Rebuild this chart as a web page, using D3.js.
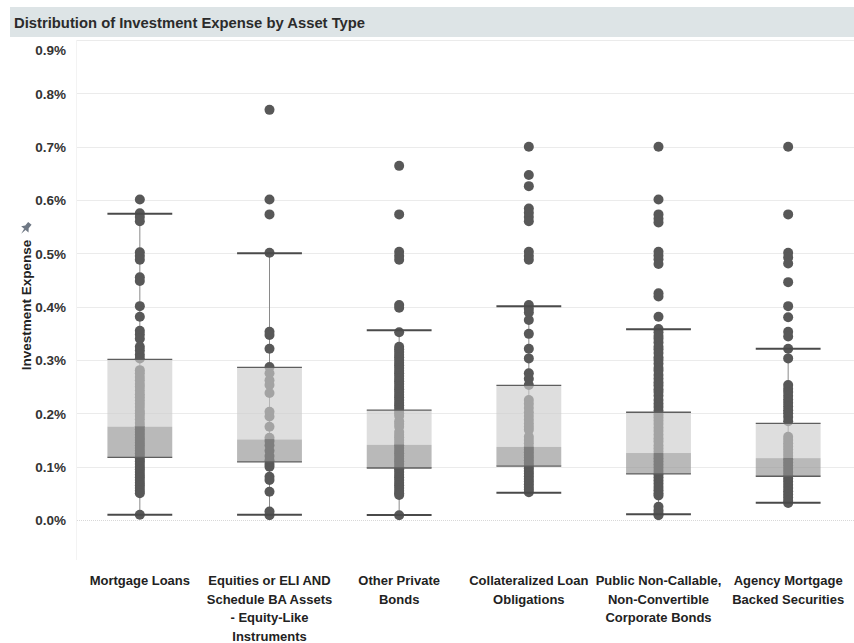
<!DOCTYPE html>
<html>
<head>
<meta charset="utf-8">
<script src="https://cdn.jsdelivr.net/npm/d3@7"></script>
<style>
  html, body { margin: 0; padding: 0; background: #ffffff; }
  svg { display: block; font-family: "Liberation Sans", Arial, sans-serif; }
</style>
</head>
<body>
<svg id="chart" width="854" height="643"></svg>
<script>
// ---------- DATA ----------
const title = "Distribution of Investment Expense by Asset Type";
const yTitle = "Investment Expense";
const categories = [
  "Mortgage Loans",
  "Equities or ELI AND Schedule BA Assets - Equity-Like Instruments",
  "Other Private Bonds",
  "Collateralized Loan Obligations",
  "Public Non-Callable, Non-Convertible Corporate Bonds",
  "Agency Mortgage Backed Securities"
];
const categoryLines = [
  ["Mortgage Loans"],
  ["Equities or ELI AND", "Schedule BA Assets", "- Equity-Like", "Instruments"],
  ["Other Private", "Bonds"],
  ["Collateralized Loan", "Obligations"],
  ["Public Non-Callable,", "Non-Convertible", "Corporate Bonds"],
  ["Agency Mortgage", "Backed Securities"]
];
const tickValues = [0, 0.1, 0.2, 0.3, 0.4, 0.5, 0.6, 0.7, 0.8, 0.9];
const tickLabels = ["0.0%", "0.1%", "0.2%", "0.3%", "0.4%", "0.5%", "0.6%", "0.7%", "0.8%", "0.9%"];

// values in percent
const mortgageLoans = [0.601, 0.575, 0.568, 0.560, 0.502, 0.495, 0.488, 0.455, 0.448, 0.401, 0.381,
  0.355, 0.348, 0.340, 0.325, 0.318, 0.310, 0.303, 0.281, 0.275, 0.268, 0.262, 0.255, 0.250, 0.243,
  0.236, 0.230, 0.224, 0.218, 0.212, 0.205, 0.200, 0.195, 0.189, 0.182, 0.176, 0.170, 0.165, 0.160,
  0.154, 0.150, 0.145, 0.140, 0.135, 0.130, 0.125, 0.120, 0.115, 0.110, 0.105, 0.100, 0.095, 0.090,
  0.085, 0.080, 0.075, 0.070, 0.065, 0.060, 0.055, 0.050, 0.010];
const equities = [0.769, 0.601, 0.573, 0.501, 0.353, 0.347, 0.321, 0.287, 0.275, 0.262, 0.253, 0.238,
  0.203, 0.194, 0.175, 0.154, 0.148, 0.140, 0.130, 0.120, 0.112, 0.105, 0.100, 0.081, 0.075, 0.053,
  0.016, 0.009];
const otherPrivate = [0.664, 0.573, 0.503, 0.495, 0.488, 0.403, 0.398, 0.352, 0.325, 0.320, 0.315,
  0.310, 0.305, 0.300, 0.295, 0.290, 0.285, 0.280, 0.275, 0.270, 0.265, 0.260, 0.255, 0.250, 0.245,
  0.240, 0.235, 0.230, 0.225, 0.220, 0.215, 0.210, 0.205, 0.200, 0.195, 0.185, 0.180, 0.175, 0.165,
  0.160, 0.155, 0.150, 0.145, 0.140, 0.135, 0.130, 0.125, 0.120, 0.115, 0.110, 0.105, 0.100, 0.095,
  0.090, 0.085, 0.080, 0.075, 0.070, 0.065, 0.060, 0.055, 0.050, 0.047, 0.009];
const clo = [0.700, 0.647, 0.626, 0.584, 0.576, 0.568, 0.560, 0.503, 0.495, 0.488, 0.403, 0.396,
  0.389, 0.375, 0.349, 0.321, 0.303, 0.275, 0.265, 0.253, 0.225, 0.218, 0.210, 0.202, 0.195, 0.188,
  0.181, 0.175, 0.169, 0.156, 0.150, 0.144, 0.137, 0.132, 0.127, 0.122, 0.117, 0.112, 0.107, 0.102,
  0.097, 0.092, 0.087, 0.082, 0.077, 0.072, 0.067, 0.062, 0.057, 0.052];
const publicBonds = [0.700, 0.601, 0.573, 0.565, 0.558, 0.503, 0.496, 0.489, 0.480, 0.425, 0.419,
  0.381, 0.358, 0.352, 0.345, 0.340, 0.333, 0.325, 0.320, 0.313, 0.305, 0.300, 0.293, 0.285, 0.280,
  0.272, 0.265, 0.258, 0.252, 0.245, 0.240, 0.233, 0.225, 0.218, 0.212, 0.205, 0.198, 0.192, 0.186,
  0.180, 0.173, 0.167, 0.160, 0.153, 0.147, 0.140, 0.134, 0.128, 0.122, 0.116, 0.110, 0.104, 0.098,
  0.092, 0.086, 0.080, 0.074, 0.068, 0.062, 0.056, 0.050, 0.046, 0.025, 0.018, 0.012, 0.009];
const agency = [0.700, 0.573, 0.501, 0.492, 0.481, 0.446, 0.401, 0.380, 0.353, 0.344, 0.321, 0.303,
  0.253, 0.246, 0.240, 0.233, 0.226, 0.220, 0.213, 0.206, 0.200, 0.193, 0.185, 0.156, 0.150, 0.144,
  0.138, 0.132, 0.126, 0.120, 0.114, 0.108, 0.102, 0.096, 0.090, 0.084, 0.078, 0.072, 0.066, 0.060,
  0.054, 0.048, 0.042, 0.036, 0.032];
const seriesValues = [mortgageLoans, equities, otherPrivate, clo, publicBonds, agency];

// box plot statistics (percent)
const whiskerLow  = [0.010, 0.010, 0.0094, 0.051, 0.011, 0.0325];
const quartile1   = [0.1175, 0.109, 0.0975, 0.101, 0.0863, 0.082];
const medians     = [0.175, 0.151, 0.141, 0.137, 0.1256, 0.116];
const quartile3   = [0.301, 0.286, 0.206, 0.2525, 0.202, 0.181];
const whiskerHigh = [0.574, 0.500, 0.356, 0.4006, 0.3575, 0.321];

// ---------- DRAW ----------
const svg = d3.select("#chart");
const W = 854, H = 643;
const plotLeft = 75, plotRight = 854, plotTop = 40, plotBottom = 560;

const x = d3.scaleBand().domain(categories).range([plotLeft, plotRight - 1]).paddingInner(0).paddingOuter(0);
const y = d3.scaleLinear().domain([-0.075, 0.9]).range([plotBottom, plotTop]);

// title band
svg.append("rect").attr("x", 10).attr("y", 7).attr("width", W - 10).attr("height", 30).attr("fill", "#dde4e6");
svg.append("text").attr("x", 14).attr("y", 28).attr("font-size", "14.8px").attr("font-weight", "bold")
  .attr("fill", "#2b2b2b").text(title);

// axis border
svg.append("line").attr("x1", plotLeft + 1.5).attr("x2", plotLeft + 1.5).attr("y1", plotTop).attr("y2", plotBottom)
  .attr("stroke", "#f3f3f3").attr("stroke-width", 1);

// gridlines
const yAxis = d3.axisLeft(y).tickValues(tickValues).tickSize(0).tickFormat((d, i) => tickLabels[i]);
svg.append("g").selectAll("line.grid").data(tickValues.filter(v => v > 0)).enter().append("line")
  .attr("x1", plotLeft + 2).attr("x2", plotRight)
  .attr("y1", d => Math.round(y(d)) + 0.5).attr("y2", d => Math.round(y(d)) + 0.5)
  .attr("stroke", "#ebebeb").attr("stroke-width", 1);
// zero line (dotted)
svg.append("line").attr("x1", plotLeft + 2).attr("x2", plotRight)
  .attr("y1", Math.round(y(0)) + 0.5).attr("y2", Math.round(y(0)) + 0.5)
  .attr("stroke", "#d8d8d8").attr("stroke-width", 1).attr("stroke-dasharray", "1,1");

// y axis labels
const gy = svg.append("g").attr("transform", `translate(${plotLeft - 6},0)`).call(yAxis);
gy.select(".domain").remove();
gy.selectAll("text").attr("font-size", "13.5px").attr("font-weight", "bold").attr("fill", "#333")
  .attr("font-family", "\"Liberation Sans\", Arial, sans-serif")
  .attr("dy", (d) => d === 0.9 ? "1.05em" : "0.35em");

// y title
svg.append("text")
  .attr("transform", `translate(31,305) rotate(-90)`)
  .attr("text-anchor", "middle").attr("font-size", "13.5px").attr("font-weight", "bold").attr("fill", "#222")
  .text(yTitle);
// pin icon
svg.append("g").attr("transform", "translate(26,228) rotate(40) scale(1.5)")
  .append("path").attr("d", "M-1.5,-4 L1.5,-4 L1.5,-1 L3.2,1.2 L-3.2,1.2 L-1.5,-1 Z M-0.6,1.2 L0.6,1.2 L0,5 Z")
  .attr("fill", "#6f7884");

// box plot groups
const half = x.bandwidth() * 0.25;
const groups = svg.append("g").selectAll("g.cat").data(categories).enter().append("g")
  .attr("transform", d => `translate(${x(d) + x.bandwidth() / 2},0)`);

// whisker vertical line
groups.append("line").attr("x1", 0).attr("x2", 0)
  .attr("y1", (d, i) => y(whiskerLow[i])).attr("y2", (d, i) => y(whiskerHigh[i]))
  .attr("stroke", "#8a8a8a").attr("stroke-width", 1);

// dots
groups.each(function(d, i) {
  d3.select(this).selectAll("circle").data(seriesValues[i]).enter().append("circle")
    .attr("cx", 0).attr("cy", v => y(v)).attr("r", 5)
    .attr("fill", "#585858");
});

// boxes (drawn over dots, semi-transparent)
groups.append("rect").attr("x", -half).attr("width", half * 2)
  .attr("y", (d, i) => y(quartile3[i])).attr("height", (d, i) => y(medians[i]) - y(quartile3[i]))
  .attr("fill", "rgb(204,204,204)").attr("fill-opacity", 0.65);
groups.append("rect").attr("x", -half).attr("width", half * 2)
  .attr("y", (d, i) => y(medians[i])).attr("height", (d, i) => y(quartile1[i]) - y(medians[i]))
  .attr("fill", "rgb(148,148,148)").attr("fill-opacity", 0.65);
// box edges
groups.append("line").attr("x1", -half).attr("x2", half)
  .attr("y1", (d, i) => y(quartile3[i])).attr("y2", (d, i) => y(quartile3[i]))
  .attr("stroke", "#5e5e5e").attr("stroke-width", 1.3);
groups.append("line").attr("x1", -half).attr("x2", half)
  .attr("y1", (d, i) => y(quartile1[i])).attr("y2", (d, i) => y(quartile1[i]))
  .attr("stroke", "#5e5e5e").attr("stroke-width", 1.3);
// whisker caps
groups.append("line").attr("x1", -half).attr("x2", half)
  .attr("y1", (d, i) => y(whiskerHigh[i])).attr("y2", (d, i) => y(whiskerHigh[i]))
  .attr("stroke", "#4a4a4a").attr("stroke-width", 2);
groups.append("line").attr("x1", -half).attr("x2", half)
  .attr("y1", (d, i) => y(whiskerLow[i])).attr("y2", (d, i) => y(whiskerLow[i]))
  .attr("stroke", "#4a4a4a").attr("stroke-width", 2);

// x labels
const xl = svg.append("g").selectAll("text.xl").data(categories).enter().append("text")
  .attr("x", d => x(d) + x.bandwidth() / 2).attr("y", 585)
  .attr("text-anchor", "middle").attr("font-size", "13px").attr("font-weight", "bold").attr("fill", "#222");
xl.each(function(d, i) {
  d3.select(this).selectAll("tspan").data(categoryLines[i]).enter().append("tspan")
    .attr("x", x(d) + x.bandwidth() / 2).attr("dy", (t, j) => j === 0 ? 0 : 18.5).text(t => t);
});
</script>
</body>
</html>
